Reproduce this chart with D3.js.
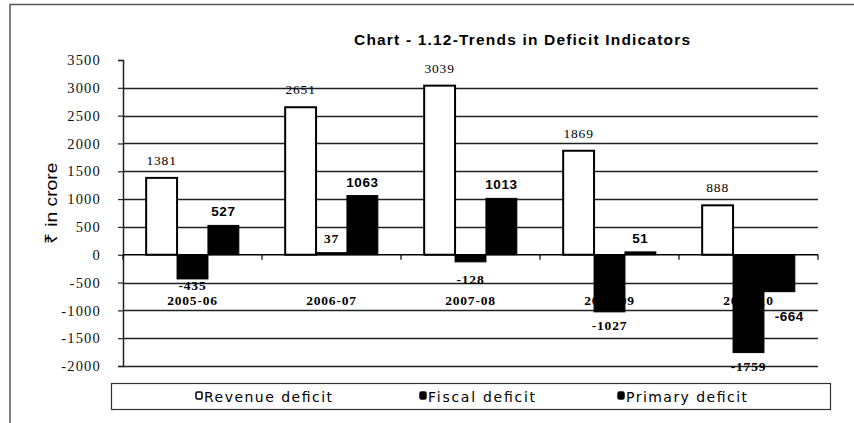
<!DOCTYPE html>
<html>
<head>
<meta charset="utf-8">
<script src="https://cdn.jsdelivr.net/npm/d3@7/dist/d3.min.js"></script>
<style>
  html, body { margin: 0; padding: 0; background: #fff; }
  svg { display: block; }
  .serif { font-family: "Liberation Serif", "Times New Roman", serif; }
  .sans { font-family: "Liberation Sans", Arial, sans-serif; }
  .wide { font-family: "DejaVu Sans", Verdana, sans-serif; }
</style>
</head>
<body>
<script>
// Deficit indicators, ₹ in crore
const years = ["2005-06", "2006-07", "2007-08", "2008-09", "2009-10"];
const seriesNames = ["Revenue deficit", "Fiscal deficit", "Primary deficit"];
const revenueDeficit = [1381, 2651, 3039, 1869, 888];
const fiscalDeficit = [-435, 37, -128, -1027, -1759];
const primaryDeficit = [527, 1063, 1013, 51, -664];
const yTicks = [-2000, -1500, -1000, -500, 0, 500, 1000, 1500, 2000, 2500, 3000, 3500];

const W = 854, H = 423;
const svg = d3.select("body").append("svg").attr("width", W).attr("height", H);

// outer frame (top and left edges visible)
svg.append("path")
  .attr("d", `M10,${H} L10,4.5 L${W},4.5`)
  .attr("fill", "none").attr("stroke", "#555").attr("stroke-width", 1.5);

const plot = { left: 123, right: 818, top: 60, bottom: 366 };

const y = d3.scaleLinear().domain([-2000, 3500]).range([plot.bottom, plot.top]);
const x0 = d3.scaleBand().domain(years).range([plot.left, plot.right]).padding(0);
const x1 = d3.scaleBand().domain(seriesNames).range([0, x0.bandwidth()])
  .paddingInner(0).paddingOuter(0.75);

// title
svg.append("text")
  .attr("class", "sans")
  .attr("x", 522).attr("y", 45)
  .attr("text-anchor", "middle")
  .attr("font-weight", "bold").attr("font-size", 15.5)
  .attr("textLength", 336).attr("lengthAdjust", "spacing")
  .text("Chart - 1.12-Trends in Deficit Indicators");

// y axis title
svg.append("text")
  .attr("class", "sans")
  .attr("transform", "translate(57,203) rotate(-90)")
  .attr("text-anchor", "middle")
  .attr("font-size", 17).attr("fill", "#000")
  .attr("textLength", 81).attr("lengthAdjust", "spacingAndGlyphs")
  .text("₹ in crore");

// horizontal gridlines
svg.append("g")
  .selectAll("line")
  .data(yTicks.filter(t => t !== 3500 && t !== 0))
  .join("line")
  .attr("x1", plot.left).attr("x2", plot.right)
  .attr("y1", d => Math.round(y(d)) + 0.5).attr("y2", d => Math.round(y(d)) + 0.5)
  .attr("stroke", "#222").attr("stroke-width", 1.5);

// y axis
const yAxis = svg.append("g")
  .attr("transform", `translate(${plot.left},0)`)
  .call(d3.axisLeft(y).tickValues(yTicks).tickSize(5).tickPadding(17).tickFormat(d => String(d)));
yAxis.attr("font-family", null);
yAxis.select(".domain").attr("stroke", "#222").attr("stroke-width", 1.5);
yAxis.selectAll(".tick line").attr("stroke", "#222").attr("stroke-width", 1.2);
yAxis.selectAll(".tick text")
  .attr("class", "serif")
  .attr("font-size", 14.5).attr("fill", "#111")
  .attr("letter-spacing", 1.2);

// category labels (drawn beneath the bars)
svg.append("g")
  .selectAll("text")
  .data(years)
  .join("text")
  .attr("class", "serif")
  .attr("x", d => x0(d) + x0.bandwidth() / 2)
  .attr("y", 305)
  .attr("text-anchor", "middle")
  .attr("font-weight", "bold").attr("font-size", 13.5)
  .attr("letter-spacing", 0.8)
  .text(d => d);

// bars
const seriesValues = [revenueDeficit, fiscalDeficit, primaryDeficit];
const fills = ["#fff", "#000", "#000"];
const rows = [];
years.forEach((yr, i) => {
  seriesNames.forEach((s, k) => rows.push({ yr, s, k, v: seriesValues[k][i] }));
});

svg.append("g")
  .selectAll("rect")
  .data(rows)
  .join("rect")
  .attr("x", d => x0(d.yr) + x1(d.s))
  .attr("width", x1.bandwidth())
  .attr("y", d => y(Math.max(0, d.v)))
  .attr("height", d => Math.abs(y(d.v) - y(0)))
  .attr("fill", d => fills[d.k])
  .attr("stroke", "#000").attr("stroke-width", d => d.k === 0 ? 2 : 1);

// zero line with category ticks
svg.append("line")
  .attr("x1", plot.left).attr("x2", plot.right)
  .attr("y1", y(0)).attr("y2", y(0))
  .attr("stroke", "#000").attr("stroke-width", 1.5);
svg.append("g")
  .selectAll("line")
  .data(years.map(d => x0(d)).concat([plot.right]))
  .join("line")
  .attr("x1", d => d).attr("x2", d => d)
  .attr("y1", y(0)).attr("y2", y(0) + 5)
  .attr("stroke", "#000").attr("stroke-width", 1.2);

// value labels
const labelStyle = [
  { cls: "serif", weight: "normal", up: 13, down: 18, ls: 0.8 },
  { cls: "serif", weight: "bold", up: 10, down: 18, ls: 0.8 },
  { cls: "sans", weight: "bold", up: 9, down: 18, ls: 0.5 }
];
const nudge = {
  "Primary deficit|2009-10": { dx: 10, dy: 11 },
  "Fiscal deficit|2007-08": { dx: 0, dy: 4 },
  "Fiscal deficit|2005-06": { dx: 0, dy: -7 }
};
svg.append("g")
  .selectAll("text")
  .data(rows)
  .join("text")
  .each(function (d) {
    const st = labelStyle[d.k];
    const n = nudge[d.s + "|" + d.yr] || { dx: 0, dy: 0 };
    const cx = x0(d.yr) + x1(d.s) + x1.bandwidth() / 2 + n.dx;
    const cy = d.v >= 0 ? y(d.v) - st.up : y(d.v) + st.down;
    d3.select(this)
      .attr("class", st.cls)
      .attr("x", cx).attr("y", cy + n.dy)
      .attr("text-anchor", "middle")
      .attr("font-weight", st.weight)
      .attr("font-size", 13.5).attr("letter-spacing", st.ls)
      .text(String(d.v));
  });

// legend
const legend = svg.append("g");
legend.append("rect")
  .attr("x", 111.5).attr("y", 383.5).attr("width", 719).attr("height", 26)
  .attr("fill", "#fff").attr("stroke", "#333").attr("stroke-width", 1.2);
const legendX = [196, 420, 618];
const legendW = [128, 107, 121];
seriesNames.forEach((s, k) => {
  legend.append("rect")
    .attr("x", legendX[k]).attr("y", 392).attr("width", 6).attr("height", 7)
    .attr("rx", 1.5)
    .attr("fill", fills[k]).attr("stroke", "#000").attr("stroke-width", 1.5);
  legend.append("text")
    .attr("class", "wide")
    .attr("x", legendX[k] + 8).attr("y", 401.5)
    .attr("font-size", 14)
    .attr("textLength", legendW[k]).attr("lengthAdjust", "spacing")
    .text(s);
});
</script>
</body>
</html>
